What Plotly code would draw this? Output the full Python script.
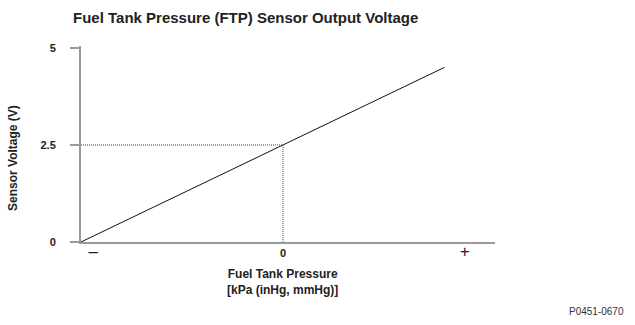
import plotly.graph_objects as go

# Data
pressure = [-1.0, 0.0, 0.8]          # relative fuel tank pressure (schematic units)
voltage = [0.0, 2.5, 4.5]            # sensor output voltage (V)
ref_x = [-1.0, 0.0, 0.0]             # dotted reference at 0 pressure / 2.5 V
ref_y = [2.5, 2.5, 0.0]
y_ticks = [0, 2.5, 5]
y_ticktext = ["0", "2.5", "5"]
x_ticks = [-0.94, 0.0, 0.9]
x_ticktext = ["<span style='font-size:17px'>\u2013</span>", "<b>0</b>",
              "<span style='font-size:17px'>+</span>"]

FONT = "Liberation Sans, Arial, sans-serif"

fig = go.Figure()
fig.add_trace(go.Scatter(x=ref_x, y=ref_y, mode="lines",
                         line=dict(color="#444444", width=1, dash="1px,1px"),
                         hoverinfo="skip", showlegend=False))
fig.add_trace(go.Scatter(x=pressure, y=voltage, mode="lines",
                         line=dict(color="#111111", width=1),
                         showlegend=False))

fig.update_layout(
    width=635, height=325,
    margin=dict(l=81, r=140, t=46, b=83),
    paper_bgcolor="white", plot_bgcolor="white",
    font=dict(family=FONT, color="#222222"),
    title=dict(text="<b>Fuel Tank Pressure (FTP) Sensor Output Voltage</b>",
               font=dict(size=15, family=FONT, color="#222222"),
               x=73 / 635, xanchor="left", xref="container",
               y=1 - 18 / 325, yanchor="middle", yref="container"),
    xaxis=dict(range=[-1.0, 1.05], showgrid=False, zeroline=False,
               showline=True, linecolor="#9a9a9a", linewidth=2,
               tickvals=x_ticks, ticktext=x_ticktext, ticks="",
               tickfont=dict(size=11, family=FONT, color="#222222")),
    yaxis=dict(range=[0, 5.05], showgrid=False, zeroline=False,
               showline=True, linecolor="#9a9a9a", linewidth=2,
               tickvals=y_ticks, ticktext=y_ticktext, ticks="outside",
               ticklen=9, tickcolor="#9a9a9a", tickwidth=1.5,
               ticklabelstandoff=12,
               tickfont=dict(size=11, family=FONT, color="#222222", weight="bold")),
    annotations=[
        dict(text="<b>Sensor Voltage (V)</b>", textangle=-90,
             xref="paper", yref="paper", x=(13 - 81) / 414, y=(242 - 158) / 196,
             xanchor="center", yanchor="middle", showarrow=False,
             font=dict(size=12, family=FONT, color="#222222")),
        dict(text="<b>Fuel Tank Pressure<br>[kPa (inHg, mmHg)]</b>",
             xref="x", yref="paper", x=0, y=-(282 - 242) / 196,
             xanchor="center", yanchor="middle", showarrow=False,
             font=dict(size=12, family=FONT, color="#222222")),
        dict(text="P0451-0670", xref="paper", yref="paper",
             x=(626 - 81) / 414, y=-(311 - 242) / 196,
             xanchor="right", yanchor="middle", showarrow=False,
             font=dict(size=10, family=FONT, color="#333333")),
    ],
)

fig.write_html("out.html")
